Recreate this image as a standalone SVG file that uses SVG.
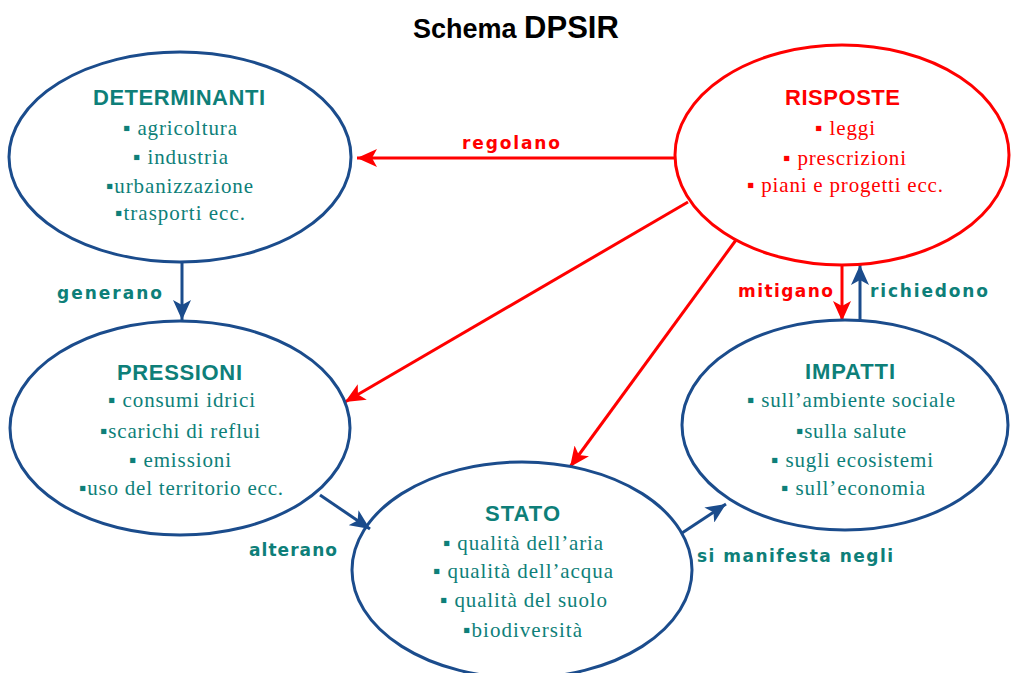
<svg xmlns="http://www.w3.org/2000/svg" width="1011" height="673" viewBox="0 0 1011 673">
<style>
.bg{fill:#ffffff}
.eb{fill:none;stroke:#1b4c8c;stroke-width:3}
.er{fill:none;stroke:#ff0000;stroke-width:3}
.hd{font-family:"Liberation Sans",Arial,sans-serif;font-weight:bold;font-size:22px}
.it{font-family:"Liberation Serif","Times New Roman",serif;font-size:21px}
.t{fill:#0e7f79}
.r{fill:#ff0000}
.lb{font-family:"DejaVu Sans",Verdana,sans-serif;font-weight:bold;font-size:17px}
.cr{fill:none;stroke:#ff0000;stroke-width:3}
.cb{fill:none;stroke:#1b4c8c;stroke-width:3}
</style>
<defs>
<marker id="ar" markerUnits="userSpaceOnUse" markerWidth="22" markerHeight="18" refX="20" refY="9" orient="auto">
<path d="M0,0 L20,9 L0,18 L5,9 Z" fill="#ff0000"/>
</marker>
<marker id="ab" markerUnits="userSpaceOnUse" markerWidth="22" markerHeight="18" refX="20" refY="9" orient="auto">
<path d="M0,0 L20,9 L0,18 L5,9 Z" fill="#1b4c8c"/>
</marker>
</defs>
<rect class="bg" x="0" y="0" width="1011" height="673"/>
<g id="title">
<text x="413" y="38" font-family="Liberation Sans,Arial,sans-serif" font-weight="bold" font-size="27" fill="#000">Schema <tspan font-size="31">DPSIR</tspan></text>
</g>
<g id="connectors">
<line class="cr" x1="675" y1="158" x2="357" y2="158" marker-end="url(#ar)"/>
<line class="cr" x1="688" y1="202" x2="345" y2="402" marker-end="url(#ar)"/>
<line class="cr" x1="736" y1="240" x2="570" y2="467" marker-end="url(#ar)"/>
<line class="cr" x1="842" y1="265" x2="842" y2="321" marker-end="url(#ar)"/>
<line class="cb" x1="860" y1="321" x2="860" y2="265" marker-end="url(#ab)"/>
<line class="cb" x1="182" y1="263" x2="182" y2="320" marker-end="url(#ab)"/>
<line class="cb" x1="320" y1="495" x2="370" y2="529" marker-end="url(#ab)"/>
<line class="cb" x1="682" y1="533" x2="726" y2="504" marker-end="url(#ab)"/>
<text class="lb r" x="462" y="149" textLength="98">regolano</text>
<text class="lb t" x="57" y="299" textLength="105">generano</text>
<text class="lb r" x="738" y="297" textLength="95">mitigano</text>
<text class="lb t" x="870" y="297" textLength="118">richiedono</text>
<text class="lb t" x="249" y="556" textLength="88">alterano</text>
<text class="lb t" x="697" y="562" textLength="196">si manifesta negli</text>
</g>
<g id="determinanti">
<ellipse class="eb" cx="180" cy="157" rx="171" ry="105"/>
<text class="hd t" x="93" y="105" textLength="172">DETERMINANTI</text>
<text class="it t" x="123" y="135" textLength="114">▪ agricoltura</text>
<text class="it t" x="133" y="164" textLength="95">▪ industria</text>
<text class="it t" x="106" y="193" textLength="147">▪urbanizzazione</text>
<text class="it t" x="115" y="220" textLength="130">▪trasporti ecc.</text>
</g>
<g id="risposte">
<ellipse class="er" cx="842" cy="155" rx="167" ry="110"/>
<text class="hd r" x="785" y="105" textLength="115">RISPOSTE</text>
<text class="it r" x="815" y="135" textLength="60">▪ leggi</text>
<text class="it r" x="783" y="165" textLength="123">▪ prescrizioni</text>
<text class="it r" x="747" y="192" textLength="196">▪ piani e progetti ecc.</text>
</g>
<g id="pressioni">
<ellipse class="eb" cx="180" cy="428" rx="170" ry="107"/>
<text class="hd t" x="117" y="380" textLength="125">PRESSIONI</text>
<text class="it t" x="108" y="407" textLength="147">▪ consumi idrici</text>
<text class="it t" x="100" y="438" textLength="160">▪scarichi di reflui</text>
<text class="it t" x="129" y="467" textLength="102">▪ emissioni</text>
<text class="it t" x="79" y="495" textLength="204">▪uso del territorio ecc.</text>
</g>
<g id="impatti">
<ellipse class="eb" cx="845" cy="425" rx="163" ry="105"/>
<text class="hd t" x="805" y="379" textLength="90">IMPATTI</text>
<text class="it t" x="747" y="407" textLength="208">▪ sull’ambiente sociale</text>
<text class="it t" x="796" y="438" textLength="110">▪sulla salute</text>
<text class="it t" x="771" y="467" textLength="162">▪ sugli ecosistemi</text>
<text class="it t" x="781" y="495" textLength="144">▪ sull’economia</text>
</g>
<g id="stato">
<ellipse class="eb" cx="522" cy="570" rx="170" ry="108"/>
<text class="hd t" x="485" y="521" textLength="75">STATO</text>
<text class="it t" x="443" y="550" textLength="160">▪ qualità dell’aria</text>
<text class="it t" x="433" y="578" textLength="180">▪ qualità dell’acqua</text>
<text class="it t" x="440" y="607" textLength="167">▪ qualità del suolo</text>
<text class="it t" x="463" y="637" textLength="119">▪biodiversità</text>
</g>
</svg>
